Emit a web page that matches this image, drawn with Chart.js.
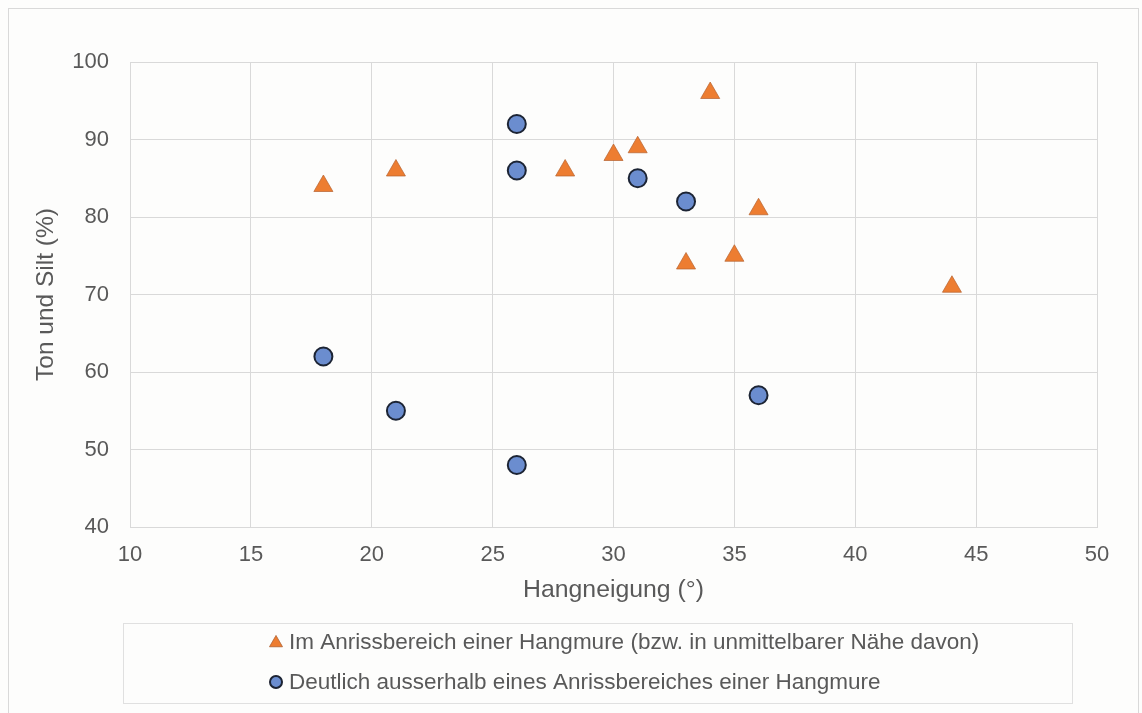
<!DOCTYPE html>
<html>
<head>
<meta charset="utf-8">
<script src="https://cdn.jsdelivr.net/npm/chart.js@4/dist/chart.umd.min.js"></script>
<style>
  html, body { margin: 0; padding: 0; background: #fdfdfc; }
  #wrap { position: relative; width: 1142px; height: 713px; }
  #frame { position: absolute; left: 8px; top: 8px; width: 1129px; height: 720px; border: 1px solid #d9d9d9; background: #fdfdfc; }
  canvas { position: absolute; left: 0; top: 0; }
</style>
</head>
<body>
<div id="wrap">
  <div id="frame"></div>
  <canvas id="scatter" width="1142" height="713"></canvas>
</div>
<script>
/*-- data --*/
var anriss_x = [18, 21, 28, 30, 31, 34, 33, 35, 36, 44];
var anriss_y = [84, 86, 86, 88, 89, 96, 74, 75, 81, 71];
var ausser_x = [18, 21, 26, 26, 26, 31, 33, 36];
var ausser_y = [62, 55, 92, 86, 48, 85, 82, 57];

var lbl_anriss = 'Im Anrissbereich einer Hangmure (bzw. in unmittelbarer Nähe davon)';
var lbl_ausser = 'Deutlich ausserhalb eines Anrissbereiches einer Hangmure';
var x_title = 'Hangneigung (°)';
var y_title = 'Ton und Silt (%)';

var FONT = "'Liberation Sans', Arial, sans-serif";
var GREY = '#595959';
var GRID = '#d9d9d9';

function pts(xs, ys){
	var re = [];
	for(var i=0;i<xs.length;i++){
		re.push({x: xs[i], y: ys[i]});
	}
	return re;
}

// legend drawn in a box below the axis, entries left aligned like the original
var boxLegend = {
	id: 'boxLegend',
	afterDraw: function(chart){
		var c = chart.ctx;
		c.save();
		c.strokeStyle = '#e0e0e0';
		c.lineWidth = 1;
		c.strokeRect(123.5, 623.5, 949, 80);
		var rows = [642, 682];
		c.font = '22.5px ' + FONT;
		c.fillStyle = GREY;
		c.textBaseline = 'middle';
		c.textAlign = 'left';
		chart.data.datasets.forEach(function(ds, i){
			Chart.helpers.drawPoint(c, {
				pointStyle: ds.pointStyle,
				radius: ds.pointStyle == 'triangle' ? 7.5 : 6,
				borderWidth: ds.borderWidth,
				rotation: 0
			}, 276, rows[i] + (ds.pointStyle == 'triangle' ? 1 : 0));
			c.fillStyle = ds.backgroundColor;
			c.strokeStyle = ds.borderColor;
			c.lineWidth = ds.borderWidth;
			c.fill();
			if(ds.borderWidth > 0) c.stroke();
			c.fillStyle = GREY;
			c.fillText(ds.label, 289, rows[i] + 1);
		});
		c.restore();
	}
};

var ctx = document.getElementById('scatter').getContext('2d');
var myChart = new Chart(ctx, {
	type: 'scatter',
	data: {
		datasets: [{
			label: lbl_anriss,
			data: pts(anriss_x, anriss_y),
			pointStyle: 'triangle',
			pointRadius: 11,
			pointHoverRadius: 11,
			backgroundColor: '#ed7d31',
			borderColor: '#b5612f',
			borderWidth: 0.7
		}, {
			label: lbl_ausser,
			data: pts(ausser_x, ausser_y),
			pointStyle: 'circle',
			pointRadius: 9,
			pointHoverRadius: 9,
			backgroundColor: '#6b8dcf',
			borderColor: '#1c2434',
			borderWidth: 2
		}]
	},
	options: {
		responsive: false,
		animation: false,
		layout: { padding: { left: 10, right: 45, top: 62, bottom: 106 } },
		plugins: {
			legend: { display: false },
			tooltip: { enabled: false }
		},
		scales: {
			x: {
				type: 'linear',
				min: 10, max: 50,
				afterFit: function(s){ s.height = 80; },
				ticks: { stepSize: 5, padding: 15, color: GREY, font: { family: FONT, size: 22 } },
				grid: { color: GRID, lineWidth: 1, drawTicks: false },
				border: { color: GRID, width: 1 },
				title: { display: true, text: x_title, color: GREY, padding: { top: 0, bottom: 2 }, font: { family: FONT, size: 24.8 } }
			},
			y: {
				type: 'linear',
				min: 40, max: 100,
				afterFit: function(s){ s.width = 120; },
				ticks: { stepSize: 10, padding: 21, color: GREY, font: { family: FONT, size: 22 } },
				grid: { color: GRID, lineWidth: 1, drawTicks: false },
				border: { color: GRID, width: 1 },
				title: { display: true, text: y_title, color: GREY, padding: { top: 22, bottom: 0 }, font: { family: FONT, size: 24.5 } }
			}
		}
	},
	plugins: [boxLegend]
});
</script>
</body>
</html>
